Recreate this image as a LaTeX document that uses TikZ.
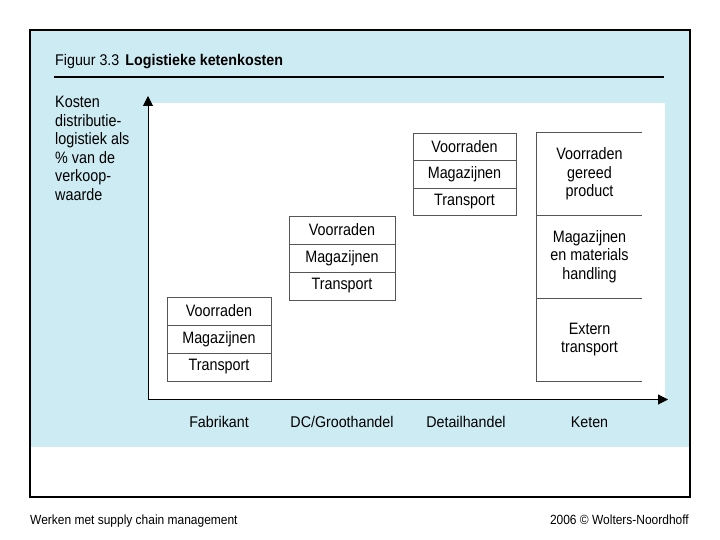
\documentclass[tikz,border=0pt]{standalone}
\usepackage{fontspec}
\setmainfont{Liberation Sans}[FakeStretch=0.92]
\newfontfamily\boxfont{Liberation Sans}[FakeStretch=0.87]
\newfontfamily\footfont{Liberation Sans}[FakeStretch=0.9]
\usetikzlibrary{arrows.meta}
\definecolor{panelblue}{RGB}{205,235,242}
\definecolor{boxgray}{RGB}{85,85,85}
\tikzset{
  txt/.style={font=\fontsize{15.5}{18.6}\selectfont, inner sep=0pt},
  boxtxt/.style={font=\boxfont\fontsize{16.5}{18.6}\selectfont, inner sep=0pt},
  cell/.style={boxtxt, draw=boxgray, line width=0.9pt, fill=white, minimum height=28pt},
  ketencell/.style={boxtxt, align=center, minimum width=105pt},
  axis/.style={line width=1pt, black, -{Triangle[length=10pt,width=10pt]}},
  catlabel/.style={txt, anchor=base},
}
\begin{document}
\begin{tikzpicture}[x=1pt,y=-1pt]
\useasboundingbox (0,0) rectangle (720,540);
\fill[white] (0,0) rectangle (720,540);
% panel
\fill[panelblue] (30,30) rectangle (690,447);
\draw[black, line width=1.2pt] (30,30) rectangle (690,497);
% title
\node[txt, anchor=base west] (title) at (55,65.5) {Figuur 3.3\hspace{6pt}\textbf{Logistieke ketenkosten}};
\draw[black, line width=1.6pt] (54,77) -- (664,77);
% plot area
\fill[white] (149,103) rectangle (665,399);
\coordinate (origin) at (148,399.5);
\coordinate (ytip) at (148,96);
\coordinate (xtip) at (668,399.5);
\draw[axis] (origin) -- (ytip);
\draw[axis] (origin) -- (xtip);
% y label
\node[anchor=north west, align=left, inner sep=0pt, font=\boxfont\fontsize{16.5}{18.6}\selectfont] (ylabel) at (55,96)
  {Kosten\\distributie-\\logistiek als\\\% van de\\verkoop-\\waarde};
% Fabrikant
\node[cell, minimum width=104pt] (f1) at (219,311) {Voorraden};
\node[cell, minimum width=104pt] (f2) at (219,339) {Magazijnen};
\node[cell, minimum width=104pt] (f3) at (219,367) {Transport};
% DC/Groothandel
\node[cell, minimum width=106pt] (g1) at (342,230) {Voorraden};
\node[cell, minimum width=106pt] (g2) at (342,258) {Magazijnen};
\node[cell, minimum width=106pt] (g3) at (342,286) {Transport};
% Detailhandel
\node[cell, minimum width=103pt, minimum height=27.5pt] (d1) at (464.5,146.75) {Voorraden};
\node[cell, minimum width=103pt, minimum height=27.5pt] (d2) at (464.5,174.25) {Magazijnen};
\node[cell, minimum width=103pt, minimum height=27.5pt] (d3) at (464.5,201.75) {Transport};
% Keten
\node[ketencell, minimum height=82pt] (k1) at (589.5,174) {Voorraden\\gereed\\product};
\node[ketencell, minimum height=83pt] (k2) at (589.5,256.5) {Magazijnen\\en materials\\handling};
\node[ketencell, minimum height=83pt] (k3) at (589.5,339.5) {Extern\\transport};
\draw[boxgray, line width=0.9pt] (k1.north east) -- (k1.north west) -- (k3.south west) -- (k3.south east);
\draw[boxgray, line width=0.9pt] (k1.south west) -- (k1.south east);
\draw[boxgray, line width=0.9pt] (k2.south west) -- (k2.south east);
% categories
\node[catlabel] (c1) at (219,427.5) {Fabrikant};
\node[catlabel] (c2) at (342,427.5) {DC/Groothandel};
\node[catlabel] (c3) at (466,427.5) {Detailhandel};
\node[catlabel] (c4) at (589.5,427.5) {Keten};
% footer
\node[anchor=base west, inner sep=0pt, font=\footfont\fontsize{13.3}{15}\selectfont] (foot1) at (30,524.5) {Werken met supply chain management};
\node[anchor=base east, inner sep=0pt, font=\footfont\fontsize{13.3}{15}\selectfont] (foot2) at (689,524.5) {2006 © Wolters-Noordhoff};
\end{tikzpicture}
\end{document}
